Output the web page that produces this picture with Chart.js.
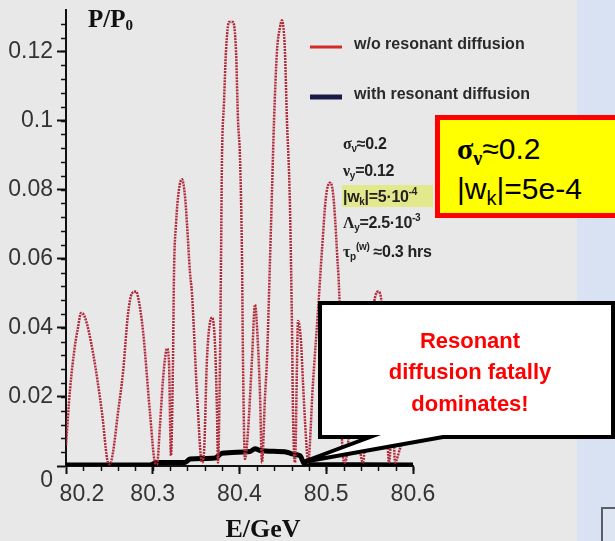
<!DOCTYPE html>
<html>
<head>
<meta charset="utf-8">
<script src="https://cdn.jsdelivr.net/npm/chart.js@4.4.1/dist/chart.umd.min.js"></script>
<style>
  html, body { margin: 0; padding: 0; }
  body { width: 615px; height: 541px; position: relative; overflow: hidden; background: #e8e8e8; font-family: "Liberation Sans", Arial, sans-serif; }
  #side { position: absolute; left: 577px; top: 0; width: 38px; height: 541px; background: #d9e2f3; }
  #corner { position: absolute; left: 601px; top: 507px; width: 30px; height: 50px; border: 2px solid #5a5f66; background: #dde5f3; }
  #plot { position: absolute; left: 0; top: 0; }
  .ytitle { position: absolute; left: 88px; top: 5px; font: bold 25px "Liberation Serif", "Times New Roman", serif; color: #111; }
  .ytitle sub { font-size: 15px; vertical-align: -3px; }
  .param { position: absolute; left: 343px; font: bold 16px "Liberation Sans", Arial, sans-serif; color: #222; letter-spacing: -0.3px; white-space: nowrap; }
  .param sub { font-size: 10px; vertical-align: -3px; }
  .param sup { font-size: 10px; vertical-align: 7px; }
  .hl { position: absolute; left: 342px; top: 185px; width: 91px; height: 22px; background: #e4e88c; }
  #ybox { position: absolute; left: 435px; top: 115px; width: 190px; height: 93px; background: #ffff00; border: 5px solid #ff0000; }
  #ybox div { position: absolute; left: 17px; font: 30px "Liberation Sans", Arial, sans-serif; color: #000; white-space: nowrap; }
  #ybox sub { font-size: 20px; vertical-align: -6px; }
  .gk { font-family: "Liberation Serif", serif; font-weight: bold; }
</style>
</head>
<body>
<div id="side"></div>
<div id="corner"></div>
<canvas id="plot" width="615" height="541"></canvas>
<div class="ytitle">P/P<sub>0</sub></div>
<div class="hl"></div>
<div class="param" style="top:135px"><span class="gk">σ</span><sub>ν</sub>≈0.2</div>
<div class="param" style="top:162px"><span class="gk">ν</span><sub>y</sub>=0.12</div>
<div class="param" style="top:186px">|w<sub>k</sub>|=5·10<sup>-4</sup></div>
<div class="param" style="top:212px"><span class="gk">Λ</span><sub>y</sub>=2.5·10<sup>-3</sup></div>
<div class="param" style="top:241px"><span class="gk">τ</span><sub>p</sub><sup>(w)</sup> ≈0.3 hrs</div>
<div id="ybox">
  <div style="top:12px"><span class="gk">σ</span><sub><span class="gk">ν</span></sub>≈0.2</div>
  <div style="top:52px">|w<sub>k</sub>|=5e-4</div>
</div>
<script>
// energy (GeV) and polarization ratio
const energyNoDiff = [80.2000, 80.2046, 80.2104, 80.2138, 80.2173, 80.2219, 80.2311, 80.2415, 80.2484, 80.2507,
  80.2542, 80.2599, 80.2657, 80.2715, 80.2761, 80.2807, 80.2830, 80.2888, 80.2968, 80.3026,
  80.3049, 80.3084, 80.3118, 80.3164, 80.3187, 80.3210, 80.3233, 80.3245, 80.3268, 80.3302,
  80.3337, 80.3372, 80.3395, 80.3429, 80.3452, 80.3510, 80.3568, 80.3591, 80.3625, 80.3683,
  80.3718, 80.3741, 80.3752, 80.3775, 80.3787, 80.3798, 80.3821, 80.3844, 80.3879, 80.3925,
  80.3960, 80.3983, 80.4006, 80.4029, 80.4040, 80.4063, 80.4098, 80.4144, 80.4179, 80.4213,
  80.4236, 80.4259, 80.4294, 80.4317, 80.4352, 80.4375, 80.4398, 80.4432, 80.4467, 80.4490,
  80.4513, 80.4524, 80.4547, 80.4571, 80.4582, 80.4605, 80.4617, 80.4640, 80.4663, 80.4674,
  80.4709, 80.4732, 80.4767, 80.4790, 80.4847, 80.4905, 80.4951, 80.4997, 80.5043, 80.5078,
  80.5124, 80.5158, 80.5182, 80.5216, 80.5274, 80.5331, 80.5389, 80.5424, 80.5481, 80.5539,
  80.5597, 80.5643, 80.5689, 80.5723, 80.5769, 80.5792, 80.5850, 80.5908, 80.5965, 80.6000];
const polNoDiff = [0.006, 0.022, 0.035, 0.040, 0.0443, 0.043, 0.0328, 0.0154, 0.001, 0.0005,
  0.004, 0.0154, 0.027, 0.044, 0.050, 0.0505, 0.049, 0.039, 0.0154, 0.001,
  0.0005, 0.012, 0.025, 0.034, 0.030, 0.003, 0.030, 0.056, 0.070, 0.080,
  0.083, 0.078, 0.070, 0.056, 0.050, 0.021, 0.001, 0.004, 0.031, 0.043,
  0.035, 0.015, 0.001, 0.030, 0.060, 0.089, 0.105, 0.120, 0.1285, 0.1285,
  0.120, 0.100, 0.089, 0.060, 0.031, 0.002, 0.010, 0.031, 0.0467, 0.035,
  0.021, 0.001, 0.020, 0.031, 0.060, 0.080, 0.100, 0.120, 0.127, 0.129,
  0.125, 0.120, 0.100, 0.085, 0.075, 0.040, 0.015, 0.001, 0.030, 0.042,
  0.036, 0.024, 0.008, 0.001, 0.024, 0.045, 0.0626, 0.078, 0.082, 0.079,
  0.062, 0.043, 0.007, 0.001, 0.012, 0.025, 0.005, 0.001, 0.025, 0.045,
  0.0505, 0.046, 0.020, 0.001, 0.015, 0.001, 0.005, 0.009, 0.012, 0.014];

const energyDiff = [80.2000, 80.2968, 80.3049, 80.3372, 80.3429, 80.3718, 80.3798, 80.4121, 80.4179, 80.4236, 80.4547, 80.4605, 80.4697, 80.4755, 80.6000];
const polDiff = [0.0003, 0.0003, 0.001, 0.001, 0.002, 0.0023, 0.0037, 0.0042, 0.005, 0.0045, 0.004, 0.0035, 0.003, 0.0004, 0.0003];

const seriesLabels = ["w/o resonant diffusion", "with resonant diffusion"];
const legendColors = ["#d42a2a", "#1a1a48"];

const xTicks = [80.2, 80.3, 80.4, 80.5, 80.6];
const xTickLabels = ["     80.2", "80.3", "80.4", "80.5", "80.6"];
const yTicks = [0, 0.02, 0.04, 0.06, 0.08, 0.1, 0.12];
const yTickLabels = ["", "0.02", "0.04", "0.06", "0.08", "0.1", "0.12"];

const tickFont = { family: '"Liberation Sans Narrow", "Arial Narrow", "Liberation Sans", sans-serif', size: 23 };

// legend, minor ticks, axis title and callout drawn over the chart
const annotate = {
  id: "annotate",
  afterDraw(chart) {
    const { ctx, scales: { x, y } } = chart;
    ctx.save();

    // minor ticks
    ctx.strokeStyle = "#111";
    ctx.lineWidth = 1.5;
    for (let v = 0.004; v < y.max; v += 0.004) {
      const py = Math.round(y.getPixelForValue(v)) + 0.5;
      ctx.beginPath(); ctx.moveTo(x.left - 5, py); ctx.lineTo(x.left, py); ctx.stroke();
    }
    for (let v = 80.22; v < 80.6; v += 0.02) {
      const px = Math.round(x.getPixelForValue(v)) + 0.5;
      ctx.beginPath(); ctx.moveTo(px, y.bottom); ctx.lineTo(px, y.bottom + 5); ctx.stroke();
    }

    // the "0" tick label sits lower than its tick
    ctx.font = `${tickFont.size}px ${tickFont.family}`;
    ctx.fillStyle = "#333";
    ctx.textAlign = "right";
    ctx.textBaseline = "middle";
    ctx.fillText("0", x.left - 13, y.getPixelForValue(0) + 15);

    // axis title
    ctx.font = 'bold 26px "Liberation Serif", "Times New Roman", serif';
    ctx.fillStyle = "#111";
    ctx.textAlign = "center";
    ctx.fillText("E/GeV", 263, 530);

    // legend
    ctx.font = 'bold 16px "Liberation Sans", Arial, sans-serif';
    ctx.textAlign = "left";
    const legendY = [47, 97];
    seriesLabels.forEach((label, i) => {
      ctx.strokeStyle = legendColors[i];
      ctx.lineWidth = i === 0 ? 3 : 5;
      ctx.beginPath(); ctx.moveTo(310, legendY[i]); ctx.lineTo(342, legendY[i]); ctx.stroke();
      ctx.fillStyle = "#2a2a2a";
      ctx.fillText(label, 354, legendY[i] - 2);
    });

    // callout bubble
    ctx.beginPath();
    ctx.moveTo(320, 303); ctx.lineTo(613, 303); ctx.lineTo(613, 437);
    ctx.lineTo(443, 437); ctx.lineTo(303, 462); ctx.lineTo(370, 437);
    ctx.lineTo(320, 437); ctx.closePath();
    ctx.fillStyle = "#fff";
    ctx.fill();
    ctx.strokeStyle = "#000";
    ctx.lineWidth = 4;
    ctx.lineJoin = "miter";
    ctx.stroke();

    ctx.font = 'bold 22px "Liberation Sans", Arial, sans-serif';
    ctx.fillStyle = "#ff0000";
    ctx.textAlign = "center";
    ctx.fillText("Resonant", 470, 342);
    ctx.fillText("diffusion fatally", 470, 373);
    ctx.fillText("dominates!", 470, 405);

    ctx.restore();
  }
};

const ctx = document.getElementById("plot").getContext("2d");

new Chart(ctx, {
  type: "line",
  data: {
    datasets: [
      {
        label: seriesLabels[0],
        data: energyNoDiff.map((e, i) => ({ x: e, y: polNoDiff[i] })),
        borderColor: "#b02a3a",
        borderWidth: 2.5,
        borderDash: [2, 1],
        pointRadius: 0,
        cubicInterpolationMode: "monotone",
      },
      {
        label: seriesLabels[1],
        data: energyDiff.map((e, i) => ({ x: e, y: polDiff[i] })),
        borderColor: "#000",
        borderWidth: 5,
        pointRadius: 0,
        cubicInterpolationMode: "monotone",
      },
    ],
  },
  options: {
    responsive: false,
    animation: false,
    devicePixelRatio: 1,
    layout: { padding: { top: 10, right: 202, left: 0, bottom: 0 } },
    plugins: {
      legend: { display: false },
      tooltip: { enabled: false },
    },
    scales: {
      x: {
        type: "linear",
        min: 80.2,
        max: 80.6,
        afterBuildTicks: (s) => { s.ticks = xTicks.map((v) => ({ value: v })); },
        afterFit: (s) => { s.height = 75; s.paddingLeft = 0; s.paddingRight = 0; },
        ticks: {
          callback: (v, i) => xTickLabels[i],
          font: tickFont,
          color: "#333",
          maxRotation: 0,
          autoSkip: false,
          padding: 7,
        },
        grid: { drawOnChartArea: false, tickLength: 8, tickColor: "#111", tickWidth: 2 },
        border: { color: "#111", width: 2 },
      },
      y: {
        type: "linear",
        min: 0,
        max: 0.132,
        afterBuildTicks: (s) => { s.ticks = yTicks.map((v) => ({ value: v })); },
        afterFit: (s) => { s.width = 66; s.paddingTop = 0; s.paddingBottom = 0; },
        ticks: {
          callback: (v, i) => yTickLabels[i],
          font: tickFont,
          color: "#333",
          padding: 4,
        },
        grid: { drawOnChartArea: false, tickLength: 9, tickColor: "#111", tickWidth: 2 },
        border: { color: "#111", width: 2 },
      },
    },
  },
  plugins: [annotate],
});
</script>
</body>
</html>
